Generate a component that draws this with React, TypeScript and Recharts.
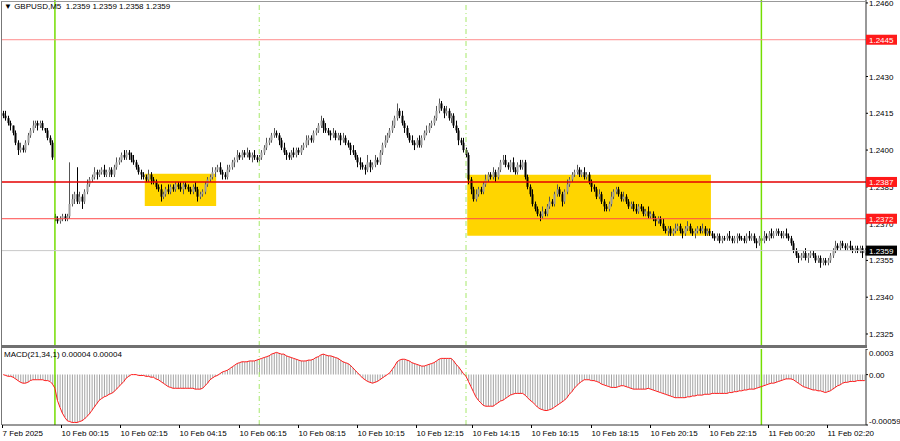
import React from 'react'
import {
  Bar,
  ComposedChart,
  Line,
  ReferenceArea,
  ReferenceLine,
  XAxis,
  YAxis
} from 'recharts'

// prices are kept in pips above 1.2300
const BASE = 1.23
const FONT = "'Liberation Sans', Arial, sans-serif"

const header = 'GBPUSD,M5  1.2359 1.2359 1.2358 1.2359'
const macdHeader = 'MACD(21,34,1) 0.00004 0.00004'

const firstOpen = 115
const weekOpenBar = 21
const weekOpen = 73

const closes = [
  114, 113, 111, 110, 107, 103, 100, 101, 100, 103,
  106, 108, 110, 111, 110, 111, 109, 108, 105, 103,
  97, 72, 71, 72, 73, 72, 73, 78, 80, 82,
  79, 81, 79, 83, 86, 88, 89, 91, 90, 91,
  92, 90, 91, 92, 90, 93, 95, 96, 98, 97,
  99, 98, 96, 95, 93, 91, 90, 89, 88, 90,
  88, 87, 85, 84, 81, 82, 84, 83, 85, 84,
  86, 85, 84, 86, 85, 84, 83, 85, 84, 81,
  82, 83, 86, 88, 89, 91, 92, 93, 91, 90,
  89, 92, 93, 95, 96, 98, 97, 99, 98, 99,
  97, 98, 97, 96, 97, 99, 101, 103, 104, 106,
  107, 106, 104, 101, 99, 98, 97, 99, 98, 100,
  99, 101, 102, 104, 105, 104, 107, 108, 110, 112,
  109, 108, 107, 106, 107, 105, 106, 104, 105, 103,
  102, 100, 99, 97, 95, 94, 93, 92, 95, 93,
  94, 96, 95, 99, 102, 104, 106, 108, 110, 113,
  116, 114, 111, 109, 106, 104, 103, 102, 104, 102,
  105, 107, 108, 110, 111, 113, 116, 119, 117, 115,
  116, 113, 114, 110, 108, 104, 103, 100, 98, 88,
  84, 80, 82, 84, 83, 86, 88, 90, 89, 91,
  89, 92, 95, 96, 94, 93, 95, 92, 91, 94,
  93, 95, 89, 85, 82, 78, 76, 74, 73, 75,
  74, 77, 79, 78, 82, 84, 82, 79, 83, 86,
  88, 90, 91, 92, 90, 91, 89, 90, 87, 85,
  84, 81, 82, 79, 77, 76, 78, 81, 83, 84,
  82, 80, 81, 79, 77, 78, 76, 75, 77, 76,
  74, 75, 73, 74, 72, 71, 72, 70, 68, 67,
  68, 66, 67, 68, 69, 67, 66, 68, 69, 67,
  66, 67, 68, 67, 68, 66, 67, 66, 65, 64,
  65, 63, 64, 64, 65, 64, 63, 64, 65, 64,
  64, 63, 65, 64, 65, 63, 62, 64, 63, 65,
  64, 66, 65, 66, 67, 66, 65, 66, 65, 64,
  62, 59, 57, 56, 57, 58, 56, 57, 58, 57,
  55, 56, 54, 55, 54, 55, 57, 59, 61, 60,
  62, 61, 60, 61, 60, 59, 60, 59, 60, 58,
  59
]

// wick length above / below the body, pips
const upWick = [
  1, 2, 1, 1, 0, 1, 1, 2, 1, 1,
  1, 1, 2, 1, 1, 1, 1, 0, 1, 1,
  1, 1, 1, 1, 1, 1, 1, 17, 2, 1,
  11, 2, 1, 1, 2, 1, 1, 2, 1, 1,
  1, 2, 1, 1, 1, 1, 2, 1, 1, 2,
  1, 1, 1, 2, 1, 1, 1, 1, 1, 2,
  1, 1, 1, 1, 2, 1, 1, 2, 1, 1,
  1, 1, 2, 1, 1, 1, 1, 1, 2, 1,
  1, 1, 1, 1, 1, 2, 1, 1, 2, 1,
  1, 2, 1, 1, 1, 2, 1, 1, 1, 2,
  1, 1, 2, 1, 1, 1, 1, 2, 1, 1,
  2, 1, 1, 1, 2, 1, 1, 1, 2, 1,
  1, 1, 1, 2, 1, 1, 1, 1, 1, 2,
  1, 2, 1, 1, 2, 1, 1, 1, 2, 1,
  1, 1, 2, 1, 1, 2, 1, 1, 3, 1,
  1, 2, 1, 1, 1, 2, 1, 1, 2, 1,
  3, 1, 2, 1, 1, 1, 2, 1, 1, 2,
  1, 1, 2, 1, 1, 1, 2, 2, 1, 1,
  2, 1, 1, 1, 2, 1, 1, 2, 1, 1,
  1, 1, 2, 1, 1, 1, 2, 1, 1, 2,
  1, 1, 1, 2, 2, 1, 1, 2, 1, 1,
  2, 1, 1, 1, 1, 2, 1, 1, 1, 2,
  1, 1, 2, 1, 1, 2, 1, 1, 1, 2,
  1, 1, 1, 2, 1, 1, 2, 1, 1, 1,
  1, 1, 2, 1, 1, 1, 1, 2, 1, 1,
  1, 1, 2, 1, 1, 1, 1, 2, 1, 1,
  1, 1, 2, 1, 1, 1, 1, 1, 2, 1,
  1, 1, 1, 2, 1, 1, 1, 1, 2, 1,
  1, 1, 1, 1, 2, 1, 1, 1, 1, 1,
  1, 1, 1, 1, 1, 2, 1, 1, 1, 1,
  1, 1, 1, 2, 1, 1, 1, 1, 1, 2,
  1, 1, 2, 1, 1, 1, 1, 1, 2, 1,
  1, 1, 1, 1, 1, 1, 2, 1, 1, 1,
  1, 1, 1, 1, 1, 1, 1, 1, 2, 1,
  1, 1, 1, 1, 2, 1, 1, 1, 1, 1,
  1
]

const dnWick = [
  1, 1, 1, 2, 1, 1, 2, 1, 1, 1,
  1, 1, 1, 1, 2, 1, 1, 1, 1, 1,
  1, 1, 1, 1, 1, 1, 1, 1, 1, 2,
  1, 1, 3, 1, 1, 1, 1, 1, 2, 1,
  1, 1, 1, 2, 1, 1, 1, 1, 1, 1,
  1, 2, 1, 1, 1, 1, 2, 1, 1, 1,
  2, 1, 1, 1, 2, 1, 1, 1, 1, 1,
  1, 1, 1, 2, 1, 1, 1, 1, 1, 2,
  1, 1, 1, 1, 1, 1, 2, 1, 1, 2,
  1, 1, 1, 1, 2, 1, 1, 1, 1, 1,
  1, 2, 1, 1, 1, 1, 1, 1, 1, 1,
  1, 1, 2, 1, 1, 2, 1, 1, 1, 1,
  1, 1, 1, 1, 2, 1, 1, 1, 1, 1,
  2, 1, 1, 2, 1, 1, 1, 2, 1, 1,
  1, 2, 1, 1, 2, 2, 1, 2, 1, 2,
  1, 1, 1, 1, 1, 1, 1, 1, 1, 1,
  1, 1, 1, 2, 1, 1, 1, 2, 1, 1,
  1, 1, 1, 1, 1, 1, 1, 1, 1, 2,
  1, 1, 2, 1, 1, 2, 1, 1, 1, 2,
  2, 1, 1, 1, 1, 1, 1, 1, 1, 1,
  2, 1, 1, 1, 1, 1, 2, 1, 1, 1,
  1, 1, 1, 1, 1, 1, 1, 1, 2, 1,
  1, 1, 1, 1, 1, 1, 1, 2, 1, 1,
  1, 1, 1, 1, 1, 1, 1, 1, 1, 2,
  1, 1, 1, 1, 2, 1, 1, 1, 1, 1,
  1, 1, 1, 1, 1, 1, 1, 1, 1, 1,
  1, 1, 1, 1, 1, 2, 1, 1, 1, 1,
  2, 1, 1, 1, 1, 1, 2, 1, 1, 1,
  1, 2, 1, 1, 1, 1, 1, 1, 1, 1,
  1, 1, 1, 1, 1, 1, 1, 1, 2, 1,
  1, 1, 1, 1, 1, 1, 2, 1, 1, 1,
  1, 1, 1, 1, 1, 1, 1, 1, 1, 1,
  1, 1, 1, 2, 1, 1, 1, 2, 1, 1,
  1, 1, 2, 1, 1, 1, 1, 1, 1, 1,
  1, 1, 1, 1, 1, 1, 1, 1, 1, 2,
  1
]

// MACD histogram, units of 0.00001
const macd = [
  0, -1, -2, -2, -3, -5, -7, -9, -10, -10,
  -9, -7, -6, -6, -6, -6, -6, -7, -7, -8,
  -11, -16, -30, -38, -45, -50, -54, -55, -56, -56,
  -56, -55, -54, -52, -49, -46, -42, -38, -34, -30,
  -28, -26, -25, -23, -22, -20, -17, -14, -11, -8,
  -4, -2, 0, 0, 0, -1, -1, -1, -2, -2,
  -3, -3, -5, -6, -8, -10, -12, -14, -15, -16,
  -16, -16, -16, -16, -16, -16, -16, -16, -17, -17,
  -17, -16, -13, -10, -6, -4, -2, -1, 1, 3,
  4, 5, 7, 9, 11, 13, 14, 15, 15, 15,
  16, 16, 16, 17, 18, 19, 20, 21, 22, 24,
  25, 26, 25, 24, 24, 22, 21, 20, 19, 18,
  17, 16, 16, 16, 17, 17, 18, 20, 21, 23,
  24, 23, 22, 22, 21, 20, 19, 17, 15, 14,
  13, 11, 8, 5, 2, -1, -4, -6, -8, -9,
  -10, -9, -8, -6, -4, -2, 0, 2, 6, 10,
  15, 17, 18, 18, 17, 16, 14, 13, 12, 11,
  10, 10, 11, 12, 13, 14, 16, 18, 19, 19,
  19, 19, 19, 16, 12, 9, 5, 1, -2, -8,
  -14, -20, -26, -30, -33, -36, -37, -37, -37, -37,
  -35, -33, -31, -30, -28, -26, -24, -23, -22, -22,
  -22, -22, -24, -27, -30, -32, -35, -38, -40, -41,
  -42, -42, -41, -40, -38, -36, -34, -32, -30, -27,
  -23, -20, -16, -13, -10, -8, -6, -6, -6, -7,
  -7, -8, -9, -11, -12, -13, -14, -15, -15, -15,
  -14, -13, -13, -14, -15, -16, -17, -17, -17, -17,
  -17, -17, -16, -17, -18, -19, -20, -21, -22, -23,
  -24, -25, -26, -27, -27, -27, -27, -27, -26, -26,
  -25, -25, -24, -24, -24, -23, -23, -23, -22, -22,
  -22, -22, -22, -22, -22, -21, -21, -20, -20, -19,
  -19, -18, -18, -17, -17, -17, -16, -15, -14, -13,
  -12, -11, -10, -10, -9, -8, -7, -6, -5, -5,
  -5, -6, -8, -10, -12, -14, -15, -16, -17, -18,
  -18, -19, -19, -20, -21, -20, -19, -17, -15, -13,
  -12, -10, -9, -9, -8, -8, -8, -7, -7, -7,
  -7
]

const timeTickBars = [0, 24, 48, 72, 96, 120, 144, 168, 191, 215, 239, 263, 287, 311, 335]
const timeTickLabels = [
  '7 Feb 2025', '10 Feb 00:15', '10 Feb 02:15', '10 Feb 04:15', '10 Feb 06:15',
  '10 Feb 08:15', '10 Feb 10:15', '10 Feb 12:15', '10 Feb 14:15', '10 Feb 16:15',
  '10 Feb 18:15', '10 Feb 20:15', '10 Feb 22:15', '11 Feb 00:20', '11 Feb 02:20'
]

// 1.2445 sits under its level tag, so it is not listed here
const priceTicks = [25, 40, 55, 70, 85, 100, 115, 130, 160]
const priceDomain = [20.1, 161.2]
const macdTicks = [30, 0, -59]
const macdTickLabels = ['0.0003', '0.00', '-0.00059']
const macdDomain = [-59, 30]

const levelPrices = [145, 87, 72]
const levelColors = ['#ff8c8c', '#e40000', '#ff4a4a']
const lastPrice = 59

const boxBars = [[58, 86], [189, 287]]
const boxPrices = [[77.2, 90.3], [65.1, 89.9]]
const dayBars = [21, 308]
const sessionBars = [104, 188]

const rows = closes.map((c, i) => {
  const open = i === 0 ? firstOpen : i === weekOpenBar ? weekOpen : closes[i - 1]
  return {
    i,
    open,
    close: c,
    high: Math.max(open, c) + upWick[i],
    low: Math.min(open, c) - dnWick[i],
    m: macd[i]
  }
})

// tags drawn last so they sit over the plain ticks
const axisTicks = [...priceTicks, lastPrice, ...levelPrices]

const fmtPrice = (v: number) => (BASE + v / 10000).toFixed(4)

const Candle = (props: any) => {
  const { x, y, width, height, payload } = props
  if (!payload) return null
  const { open, close, high, low } = payload
  const top = Math.min(y, y + height)
  const h = Math.abs(height)
  const k = h / (high - low)
  const cx = Math.round(x + width / 2) + 0.5
  const yo = top + (high - open) * k
  const yc = top + (high - close) * k
  const bull = close > open
  const bodyTop = Math.min(yo, yc)
  const bodyH = Math.max(Math.abs(yc - yo), 1)
  return (
    <g>
      <line x1={cx} x2={cx} y1={top} y2={top + h} stroke={bull ? '#555' : '#000'} strokeWidth={1} />
      <rect x={cx - 1} y={bodyTop} width={2} height={bodyH} fill={bull ? '#9c9c9c' : '#000'} />
    </g>
  )
}

const PriceTick = ({ x, y, payload }: any) => {
  const v = payload.value
  const lv = levelPrices.indexOf(v)
  if (lv >= 0 || v === lastPrice) {
    return (
      <g>
        <rect x={x} y={y - 5} width={31} height={10} fill={lv >= 0 ? '#ff1a1a' : '#000'} />
        <text x={x + 3} y={y + 3} fill="#fff" fontSize={8} fontFamily={FONT}>
          {fmtPrice(v)}
        </text>
      </g>
    )
  }
  return (
    <g>
      <line x1={x} x2={x + 2} y1={y} y2={y} stroke="#000" />
      <text x={x + 3} y={y + 3} fill="#000" fontSize={8} fontFamily={FONT}>
        {fmtPrice(v)}
      </text>
    </g>
  )
}

const MacdTick = ({ x, y, payload }: any) => {
  const k = macdTicks.indexOf(payload.value)
  const dy = k === 0 ? 7 : k === 2 ? -1 : 3
  return (
    <g>
      <line x1={x} x2={x + 2} y1={y} y2={y} stroke="#000" />
      <text x={x + 3} y={y + dy} fill="#000" fontSize={8} fontFamily={FONT}>
        {macdTickLabels[k]}
      </text>
    </g>
  )
}

const TimeTick = ({ x, y, payload }: any) => {
  const k = timeTickBars.indexOf(payload.value)
  const x0 = Math.round(x - 1) + 0.5
  return (
    <g>
      <line x1={x0} x2={x0} y1={y} y2={y + 3} stroke="#000" />
      <text x={x0} y={y + 11} fill="#000" fontSize={8} fontFamily={FONT}>
        {timeTickLabels[k]}
      </text>
    </g>
  )
}

const verticalLines = () => [
  ...dayBars.map(b => (
    <ReferenceLine key={'d' + b} x={b} stroke="#74dd00" strokeWidth={1.5} />
  )),
  ...sessionBars.map(b => (
    <ReferenceLine key={'s' + b} x={b} stroke="#a6e86a" strokeWidth={1} strokeDasharray="5 3 1 3" />
  ))
]

const App: React.FC = () => {
  return (
    <div style={{ position: 'absolute', left: 0, top: 0, width: 900, height: 441, background: '#fff', overflow: 'hidden' }}>
      <div style={{ position: 'absolute', left: 0, top: 0 }}>
        <ComposedChart
          width={900}
          height={346}
          data={rows}
          margin={{ top: 0, right: 0, left: 2, bottom: 0 }}
          barCategoryGap={0}
          barGap={0}
        >
          <XAxis dataKey="i" hide />
          <YAxis
            orientation="right"
            width={34}
            domain={priceDomain}
            ticks={axisTicks}
            interval={0}
            allowDataOverflow
            axisLine={{ stroke: '#333' }}
            tickLine={false}
            tickSize={0}
            tickMargin={0}
            tick={<PriceTick />}
          />
          {boxBars.map((b, k) => (
            <ReferenceArea
              key={'box' + k}
              x1={b[0]}
              x2={b[1]}
              y1={boxPrices[k][0]}
              y2={boxPrices[k][1]}
              fill="#ffd500"
              fillOpacity={1}
              stroke="none"
            />
          ))}
          {verticalLines()}
          <ReferenceLine y={lastPrice} stroke="#c8c8c8" />
          <Bar dataKey={(d: any) => [d.low, d.high]} shape={<Candle />} isAnimationActive={false} />
          {levelPrices.map((p, k) => (
            <ReferenceLine
              key={'lv' + k}
              y={p}
              stroke={levelColors[k]}
              strokeWidth={k === 1 ? 1.5 : 1}
            />
          ))}
        </ComposedChart>
      </div>
      <div style={{ position: 'absolute', left: 0, top: 349 }}>
        <ComposedChart
          width={900}
          height={92}
          data={rows}
          margin={{ top: 0, right: 0, left: 2, bottom: 0 }}
          barCategoryGap={0}
          barGap={0}
        >
          <XAxis
            dataKey="i"
            height={16}
            ticks={timeTickBars}
            interval={0}
            axisLine={{ stroke: '#333' }}
            tickLine={false}
            tickSize={0}
            tickMargin={0}
            tick={<TimeTick />}
          />
          <YAxis
            orientation="right"
            width={34}
            domain={macdDomain}
            ticks={macdTicks}
            interval={0}
            allowDataOverflow
            axisLine={{ stroke: '#333' }}
            tickLine={false}
            tickSize={0}
            tickMargin={0}
            tick={<MacdTick />}
          />
          {verticalLines()}
          <Bar dataKey="m" fill="#a4a4a4" barSize={1} isAnimationActive={false} />
          <Line dataKey="m" type="linear" stroke="#ff1a1a" strokeWidth={1} dot={false} isAnimationActive={false} />
        </ComposedChart>
      </div>
      {/* window frame and pane separator */}
      <div style={{ position: 'absolute', left: 1, top: 1, width: 865, height: 344, borderLeft: '1px solid #777', borderTop: '1px solid #999' }} />
      <div style={{ position: 'absolute', left: 1, top: 345, width: 866, height: 3, background: '#707070' }} />
      <div style={{ position: 'absolute', left: 1, top: 348, width: 1, height: 77, background: '#777' }} />
      <div style={{ position: 'absolute', left: 4, top: 2, fontSize: 8, lineHeight: '10px', fontFamily: FONT, color: '#000', whiteSpace: 'pre' }}>
        {'\u25BC ' + header}
      </div>
      <div style={{ position: 'absolute', left: 4, top: 350, fontSize: 8, lineHeight: '10px', fontFamily: FONT, color: '#000', whiteSpace: 'pre' }}>
        {macdHeader}
      </div>
    </div>
  )
}

export default App
